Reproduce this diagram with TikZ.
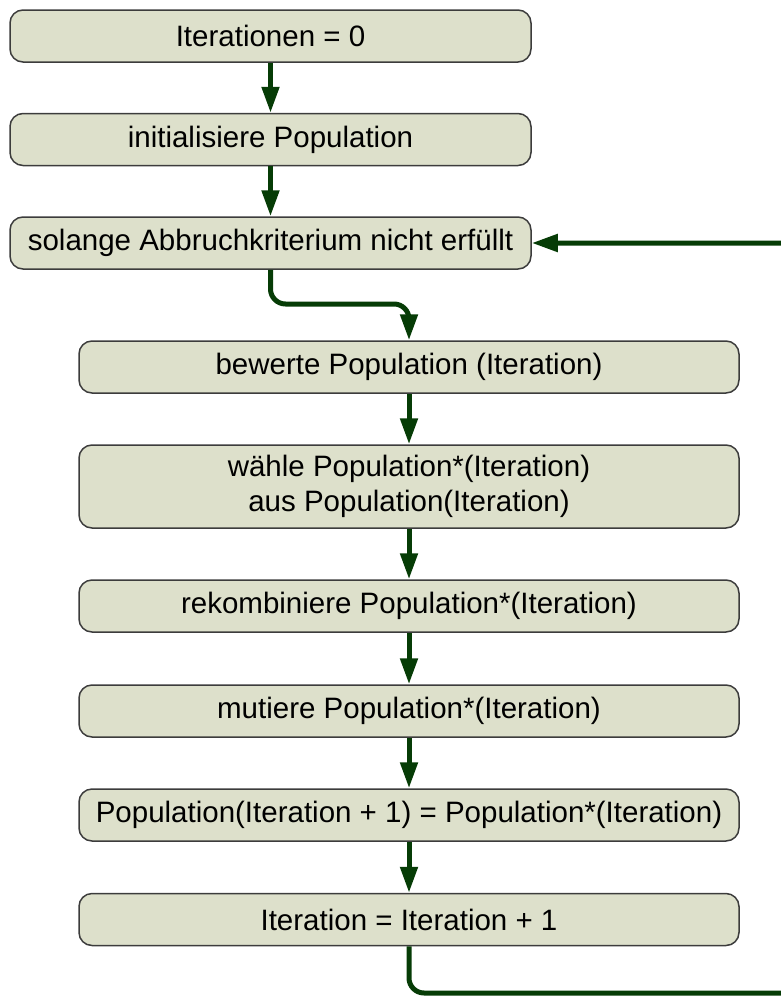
\documentclass[tikz,border=0pt]{standalone}
\usepackage{fontspec}
\setmainfont{Liberation Sans}
\usetikzlibrary{arrows.meta}
\definecolor{boxfill}{RGB}{221,224,203}
\definecolor{boxline}{RGB}{60,60,60}
\definecolor{flowgreen}{RGB}{6,60,6}
\begin{document}
\begin{tikzpicture}[x=1pt,y=-1pt,
  stepbox/.style={draw=boxline, line width=1.5pt, fill=boxfill, rounded corners=13pt,
    inner sep=0pt, align=center,
    font=\fontsize{29.5}{35}\selectfont},
  widebox/.style={stepbox, minimum width=521pt, minimum height=52pt},
  innerbox/.style={stepbox, minimum width=660pt, minimum height=52pt},
  flow/.style={draw=flowgreen, line width=5pt,
    -{Triangle[length=26pt,width=17pt]}, rounded corners=15pt}]
  \useasboundingbox (0,0) rectangle (781,996);
  \clip (0,0) rectangle (781,996);

  % outer steps
  \node[widebox] (b1) at (270.5,36) {Iterationen = 0};
  \node[widebox] (b2) at (270.5,139.5) {initialisiere Population};
  \node[widebox] (b3) at (270.5,243) {solange Abbruchkriterium nicht erfüllt};

  % loop body
  \node[innerbox] (b4) at (409,367) {bewerte Population (Iteration)};
  \node[innerbox, minimum height=83pt] (b5) at (409,486.5)
    {wähle Population*(Iteration)\\aus Population(Iteration)};
  \node[innerbox] (b6) at (409,606) {rekombiniere Population*(Iteration)};
  \node[innerbox] (b7) at (409,711) {mutiere Population*(Iteration)};
  \node[innerbox] (b8) at (409,815) {Population(Iteration + 1) = Population*(Iteration)};
  \node[innerbox] (b9) at (409,919.5) {Iteration = Iteration + 1};

  % connectors
  \draw[flow] (b1.south) -- (b2.north);
  \draw[flow] (b2.south) -- (b3.north);
  \coordinate (k1) at (270.5,304);
  \draw[flow] (b3.south) -- (k1) -| (b4.north);
  \draw[flow] (b4.south) -- (b5.north);
  \draw[flow] (b5.south) -- (b6.north);
  \draw[flow] (b6.south) -- (b7.north);
  \draw[flow] (b7.south) -- (b8.north);
  \draw[flow] (b8.south) -- (b9.north);

  % back edge to the loop condition
  \coordinate (rb) at (830,993);
  \coordinate (rt) at (830,243);
  \draw[flow] (b9.south) |- (rb) -- (rt) -- (b3.east);
\end{tikzpicture}
\end{document}
